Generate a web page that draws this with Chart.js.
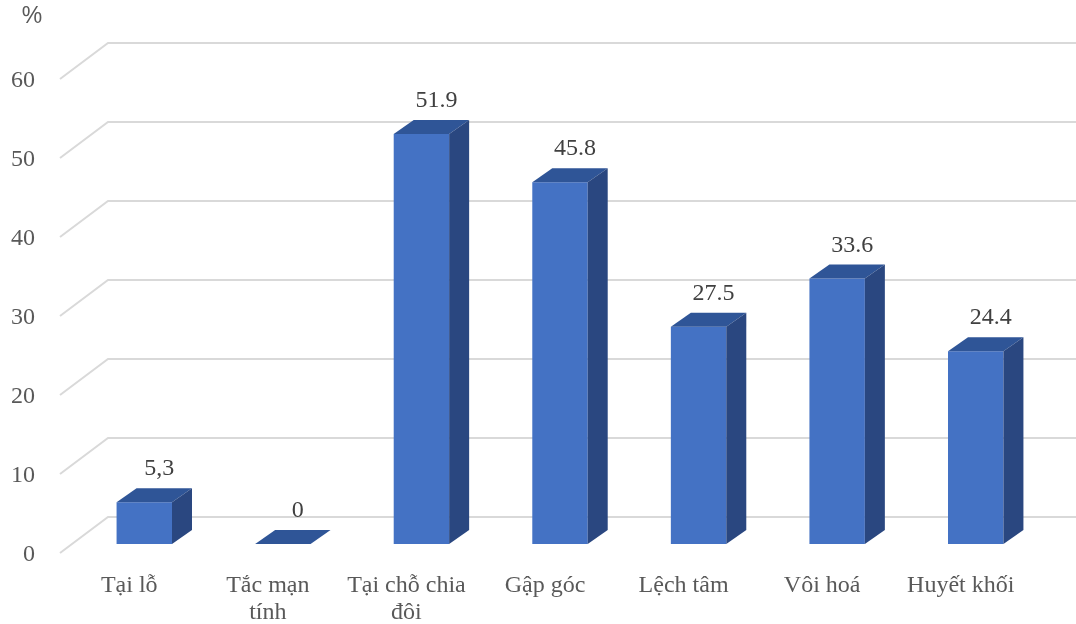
<!DOCTYPE html>
<html lang="vi">
<head>
<meta charset="utf-8">
<title>Biểu đồ</title>
<script src="https://cdn.jsdelivr.net/npm/chart.js@4/dist/chart.umd.min.js"></script>
<style>
    body { margin: 0; background: #ffffff; }
    #wrap { width: 1076px; height: 624px; position: relative; }
</style>
</head>
<body>
<div id="wrap"><canvas id="myBarChart"></canvas></div>
<script>
// Données du graphique
const categories = ['Tại lỗ', ['Tắc mạn', 'tính'], ['Tại chỗ chia', 'đôi'], 'Gập góc', 'Lệch tâm', 'Vôi hoá', 'Huyết khối'];
const values = [5.3, 0, 51.9, 45.8, 27.5, 33.6, 24.4];
const commaLabels = [0]; // indices dont l'étiquette s'écrit avec une virgule
const yTicks = [0, 10, 20, 30, 40, 50, 60];

// Couleurs et profondeur des barres
const frontColor = '#4472C4';
const topColor = '#2F5597';
const sideColor = '#2A4780';
const gridColor = '#D9D9D9';
const textColor = '#595959';
const serif = "'Times New Roman', 'Liberation Serif', serif";
const barDepth = { dx: 20, dy: -14 };
const floorDepth = { dx: 48, dy: -36 };
const barInset = 9; // distance entre l'avant du sol et l'avant des barres

// Plugin : grille en perspective (mur du fond + diagonale à gauche)
const gridPlugin = {
    id: 'grid3d',
    beforeDatasetsDraw(chart) {
        const { ctx, chartArea, scales } = chart;
        const xFront = chartArea.left - 15;
        ctx.save();
        ctx.strokeStyle = gridColor;
        ctx.lineWidth = 2;
        yTicks.forEach((v) => {
            const yFront = scales.y.getPixelForValue(v) + barInset;
            ctx.beginPath();
            ctx.moveTo(xFront, yFront);
            ctx.lineTo(xFront + floorDepth.dx, yFront + floorDepth.dy);
            ctx.lineTo(chart.width, yFront + floorDepth.dy);
            ctx.stroke();
        });
        ctx.restore();
    },
};

// Plugin : faces du dessus et de côté, puis étiquettes de valeur
const barPlugin = {
    id: 'bar3d',
    afterDatasetsDraw(chart) {
        const { ctx } = chart;
        const meta = chart.getDatasetMeta(0);
        ctx.save();
        meta.data.forEach((bar, i) => {
            const half = bar.width / 2;
            const left = bar.x - half;
            const right = bar.x + half;
            const top = bar.y;
            const base = bar.base;
            const { dx, dy } = barDepth;

            ctx.fillStyle = topColor;
            ctx.beginPath();
            ctx.moveTo(left, top);
            ctx.lineTo(left + dx, top + dy);
            ctx.lineTo(right + dx, top + dy);
            ctx.lineTo(right, top);
            ctx.closePath();
            ctx.fill();

            if (base - top > 0.5) {
                ctx.fillStyle = sideColor;
                ctx.beginPath();
                ctx.moveTo(right, top);
                ctx.lineTo(right + dx, top + dy);
                ctx.lineTo(right + dx, base + dy);
                ctx.lineTo(right, base);
                ctx.closePath();
                ctx.fill();
            }

            let text = String(values[i]);
            if (commaLabels.includes(i)) text = text.replace('.', ',');
            ctx.fillStyle = '#404040';
            ctx.font = '24px ' + serif;
            ctx.textAlign = 'center';
            ctx.textBaseline = 'alphabetic';
            ctx.fillText(text, bar.x + 15, top - 27);
        });

        // Unité de l'axe vertical
        ctx.fillStyle = textColor;
        ctx.font = "23px 'Liberation Sans', Arial, sans-serif";
        ctx.textAlign = 'center';
        ctx.textBaseline = 'middle';
        ctx.fillText('%', 32, 17);
        ctx.restore();
    },
};

// Crée le graphique en barres
const barCtx = document.getElementById('myBarChart').getContext('2d');
const myBarChart = new Chart(barCtx, {
    type: 'bar',
    data: {
        labels: categories,
        datasets: [
            {
                data: values,
                backgroundColor: frontColor,
                borderWidth: 0,
                barPercentage: 0.4,
                categoryPercentage: 1,
            },
        ],
    },
    options: {
        responsive: true,
        maintainAspectRatio: false,
        animation: false,
        events: [],
        layout: {
            padding: { top: 70, right: 31, bottom: 0, left: 0 },
        },
        plugins: {
            legend: { display: false },
            tooltip: { enabled: false },
        },
        scales: {
            x: {
                grid: { display: false },
                border: { display: false },
                ticks: {
                    color: textColor,
                    font: { family: serif, size: 24, lineHeight: 1.12 },
                    padding: 20,
                    labelOffset: -15,
                    maxRotation: 0,
                    autoSkip: false,
                },
                afterFit(scale) {
                    scale.height = 80;
                },
            },
            y: {
                min: 0,
                max: 60,
                grid: { display: false },
                border: { display: false },
                ticks: {
                    stepSize: 10,
                    color: textColor,
                    font: { family: serif, size: 24 },
                    padding: 32,
                    labelOffset: 11,
                },
                afterFit(scale) {
                    scale.width = 75;
                },
            },
        },
    },
    plugins: [gridPlugin, barPlugin],
});
</script>
</body>
</html>
